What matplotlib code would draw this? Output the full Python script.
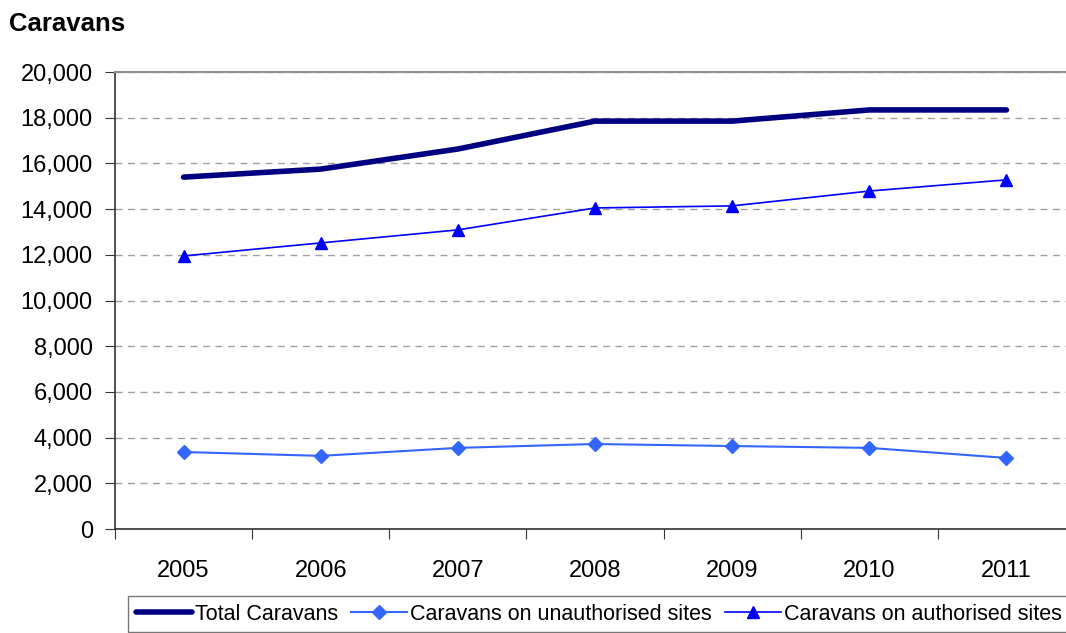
import matplotlib
matplotlib.use("Agg")
import matplotlib.pyplot as plt
import numpy as np

plt.rcParams["font.family"] = ["Liberation Sans", "DejaVu Sans"]

years = ["2005", "2006", "2007", "2008", "2009", "2010", "2011"]
total = [15400, 15750, 16630, 17850, 17850, 18340, 18340]
unauthorised = [3370, 3200, 3550, 3720, 3630, 3550, 3110]
authorised = [11950, 12520, 13090, 14050, 14140, 14790, 15280]
y_ticks = [0, 2000, 4000, 6000, 8000, 10000, 12000, 14000, 16000, 18000, 20000]

fig = plt.figure(figsize=(10.66, 6.33), dpi=100)
# the plot area runs slightly past the right edge of the image, as in the original
ax = fig.add_axes([115 / 1066, 1 - 529 / 633, 960 / 1066, 457 / 633])

x = np.arange(len(years))
ax.plot(x, total, color="#000080", lw=4.0, solid_capstyle="round",
        label="Total Caravans", zorder=3)
ax.plot(x, unauthorised, color="#3366FF", lw=1.5, marker="D", ms=7,
        label="Caravans on unauthorised sites", zorder=3)
ax.plot(x, authorised, color="#0000FF", lw=1.2, marker="^", ms=8.5,
        label="Caravans on authorised sites", zorder=3)

ax.set_xlim(-0.5, len(years) - 0.5)
ax.set_ylim(0, 20000)
ax.set_yticks(y_ticks)
ax.set_yticklabels([f"{v:,}" for v in y_ticks], fontsize=17)
ax.yaxis.grid(True, color="#a0a0a0", ls=(0, (5, 4)), lw=1)
ax.set_axisbelow(True)

# category boundaries carry the ticks, labels sit between them
ax.set_xticks(np.arange(len(years) + 1) - 0.5)
ax.set_xticklabels([])
ax.set_xticks(x, minor=True)
ax.set_xticklabels(years, minor=True, fontsize=17)
ax.tick_params(axis="x", which="major", length=7, color="#333333")
ax.tick_params(axis="x", which="minor", length=0, pad=22)
ax.tick_params(axis="y", length=7, color="#333333", pad=9)

for s in ["left", "bottom"]:
    ax.spines[s].set_color("#333333")
    ax.spines[s].set_linewidth(1.2)
ax.spines["top"].set_color("#909090")
ax.spines["top"].set_linewidth(1.5)
ax.spines["right"].set_visible(False)

fig.text(9 / 1066, 1 - 24 / 633, "Caravans", fontsize=18.5, fontweight="bold",
         va="center", ha="left")

leg = fig.legend(loc="upper left", bbox_to_anchor=(128 / 1066, 1 - 596 / 633),
                 ncol=3, fontsize=15.5, frameon=True, fancybox=False,
                 edgecolor="#555555", handlelength=2.6, handletextpad=0.15,
                 columnspacing=0.6, borderpad=0.35, borderaxespad=0)
leg.get_frame().set_linewidth(1.0)

fig.savefig("out.png", dpi=100)
